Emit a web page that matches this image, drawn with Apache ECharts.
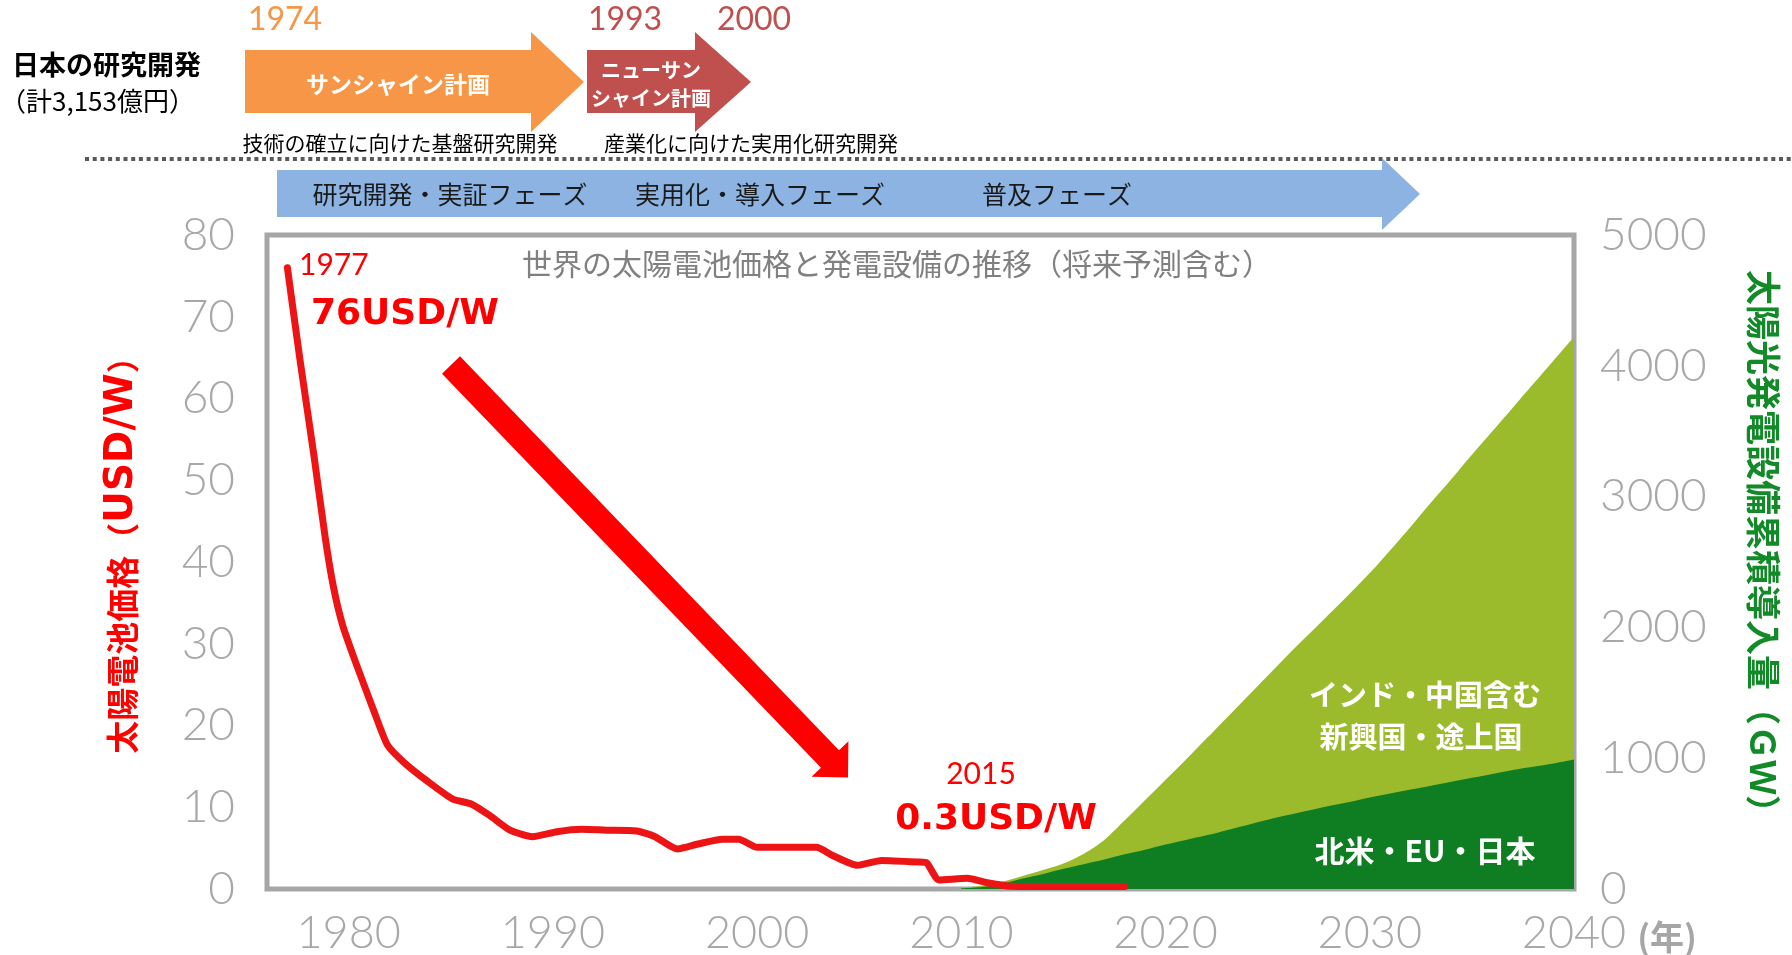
<!DOCTYPE html>
<html>
<head>
<meta charset="utf-8">
<script src="https://cdn.jsdelivr.net/npm/echarts@6/dist/echarts.min.js"></script>
<style>
html,body{margin:0;padding:0;background:#ffffff;}
#chart{width:1792px;height:955px;}
</style>
</head>
<body>
<div id="chart"></div>
<script>
// ---- data ----
const priceYears = [1977, 1977.6, 1978.3, 1978.85, 1979.25, 1979.7, 1980.3, 1981.2, 1981.9, 1982.7, 1983.9, 1985.1, 1986.0, 1986.9, 1987.9, 1989.0, 1990.2, 1991.4, 1992.6, 1994.1, 1995.0, 1996.1, 1997.1, 1998.3, 1999.1, 2000.0, 2002.9, 2003.7, 2004.9, 2006.1, 2007.9, 2008.3, 2008.9, 2010.3, 2011.2, 2012.4, 2015, 2018];
const priceUSDperW = [76, 65, 53, 43, 37, 32.3, 28, 22, 17.6, 15.5, 13.1, 11.0, 10.4, 9.0, 7.2, 6.4, 7.0, 7.3, 7.2, 7.1, 6.4, 4.9, 5.5, 6.1, 6.1, 5.1, 5.1, 4.1, 2.9, 3.5, 3.3, 3.2, 1.1, 1.3, 0.8, 0.35, 0.3, 0.3];

const capYears = [2010, 2011, 2012, 2013, 2014, 2015, 2016, 2017, 2018, 2019, 2020, 2021, 2022, 2023, 2024, 2025, 2026, 2027, 2028, 2029, 2030, 2031, 2032, 2033, 2034, 2035, 2036, 2037, 2038, 2039, 2040];
const advancedGW = [5, 15, 40, 80, 115, 155, 190, 225, 265, 300, 340, 375, 410, 450, 490, 530, 565, 600, 635, 665, 700, 730, 760, 790, 820, 850, 880, 910, 935, 960, 990];
const emergingGW = [5, 10, 15, 20, 30, 40, 80, 150, 260, 380, 495, 615, 740, 860, 980, 1100, 1225, 1345, 1465, 1590, 1715, 1860, 2010, 2165, 2315, 2470, 2620, 2770, 2925, 3080, 3230];

const xTickYears = [1980, 1990, 2000, 2010, 2020, 2030, 2040];
const priceAxisMax = 80;
const priceAxisStep = 10;
const capAxisMax = 5000;
const capAxisStep = 1000;

const advancedName = '北米・EU・日本';
const emergingName = 'インド・中国含む新興国・途上国';

// ---- styles ----
const CJK = "'Noto Sans CJK JP', 'Noto Sans', sans-serif";
const NUM = "Lato, 'Liberation Sans', sans-serif";
const tickGray = '#a8a8a8';
const priceRed = '#ec1414';
const darkGreen = '#0f7d21';
const lightGreen = '#9cbb2c';

const priceData = priceYears.map((y, i) => [y, priceUSDperW[i]]);
const advData = capYears.map((y, i) => [y, advancedGW[i]]);
// emerging band is drawn on top of the advanced band: its upper edge is the sum
const totalData = capYears.map((y, i) => [y, advancedGW[i] + emergingGW[i]]);

function txt(text, x, y, font, fill, align, extra) {
  return Object.assign({
    type: 'text', x: x, y: y, z: 100,
    style: { text: text, font: font, fill: fill, align: align || 'center', verticalAlign: 'middle' }
  }, extra || {});
}
function arrow(points, fill) {
  return { type: 'polygon', z: 50, shape: { points: points }, style: { fill: fill } };
}

const chart = echarts.init(document.getElementById('chart'), null, { renderer: 'canvas' });

const option = {
  animation: false,
  backgroundColor: '#ffffff',
  grid: {
    left: 267, right: 218, top: 235, bottom: 66,
    show: true, borderColor: '#a6a6a6', borderWidth: 5,
    backgroundColor: 'transparent',
    containLabel: false, outerBoundsMode: 'none'
  },
  xAxis: {
    type: 'value', min: 1976, max: 2040,
    axisLine: { show: false }, axisTick: { show: false }, splitLine: { show: false },
    axisLabel: {
      customValues: xTickYears, fontSize: 45, fontWeight: 300, fontFamily: NUM, color: tickGray, margin: 22,
      formatter: v => String(v)
    }
  },
  yAxis: [
    {
      type: 'value', min: 0, max: priceAxisMax, interval: priceAxisStep, position: 'left',
      axisLine: { show: false }, axisTick: { show: false }, splitLine: { show: false },
      axisLabel: { fontSize: 46, fontWeight: 300, fontFamily: NUM, color: tickGray, margin: 32, formatter: v => String(v) }
    },
    {
      type: 'value', min: 0, max: capAxisMax, interval: capAxisStep, position: 'right',
      axisLine: { show: false }, axisTick: { show: false }, splitLine: { show: false },
      axisLabel: { fontSize: 46, fontWeight: 300, fontFamily: NUM, color: tickGray, margin: 26, formatter: v => String(v) }
    }
  ],
  series: [
    {
      name: emergingName, type: 'line', yAxisIndex: 1, data: totalData,
      smooth: 0.3, showSymbol: false, lineStyle: { width: 0 },
      areaStyle: { color: lightGreen, opacity: 1 }, z: 2
    },
    {
      name: advancedName, type: 'line', yAxisIndex: 1, data: advData,
      smooth: 0.3, showSymbol: false, lineStyle: { width: 0 },
      areaStyle: { color: darkGreen, opacity: 1 }, z: 3
    },
    {
      name: '太陽電池価格', type: 'line', yAxisIndex: 0, data: priceData,
      smooth: 0.2, showSymbol: false,
      lineStyle: { width: 7, color: priceRed, cap: 'round', join: 'round' }, z: 5
    }
  ],
  graphic: [
    // header
    txt('日本の研究開発', 12, 65, `bold 27px ${CJK}`, '#000000', 'left'),
    txt('（計3,153億円）', 0, 101, `26px ${CJK}`, '#000000', 'left'),
    txt('1974', 285, 20, `32px ${NUM}`, '#f79646'),
    txt('1993', 625, 20, `32px ${NUM}`, '#c0504d'),
    txt('2000', 754, 20, `32px ${NUM}`, '#c0504d'),
    arrow([[245, 50], [531, 50], [531, 32], [584, 82], [531, 132], [531, 113], [245, 113]], '#f79646'),
    arrow([[587, 50], [695, 50], [695, 32], [751, 82], [695, 132], [695, 113], [587, 113]], '#c0504d'),
    txt('サンシャイン計画', 398, 84, `bold 23px ${CJK}`, '#ffffff'),
    txt('ニューサン', 651, 70, `bold 20px ${CJK}`, '#ffffff'),
    txt('シャイン計画', 651, 98, `bold 20px ${CJK}`, '#ffffff'),
    txt('技術の確立に向けた基盤研究開発', 400, 143, `21px ${CJK}`, '#000000'),
    txt('産業化に向けた実用化研究開発', 751, 143, `21px ${CJK}`, '#000000'),
    { type: 'line', z: 50, shape: { x1: 85, y1: 159, x2: 1792, y2: 159 },
      style: { stroke: '#595959', lineWidth: 4, lineDash: [4, 3.7] } },
    // phase arrow
    arrow([[277, 170], [1382, 170], [1382, 158], [1420, 194], [1382, 230], [1382, 217], [277, 217]], '#8db3e2'),
    txt('研究開発・実証フェーズ', 450, 194, `25px ${CJK}`, '#1a1a1a'),
    txt('実用化・導入フェーズ', 760, 194, `25px ${CJK}`, '#1a1a1a'),
    txt('普及フェーズ', 1057, 194, `25px ${CJK}`, '#1a1a1a'),
    // in-plot annotations
    txt('世界の太陽電池価格と発電設備の推移（将来予測含む）', 897, 264, `30px ${CJK}`, '#808080'),
    txt('1977', 299, 265, `30px ${NUM}`, '#ff0000', 'left'),
    txt('76USD/W', 311, 315, `bold 36px 'DejaVu Sans', sans-serif`, '#ff0000', 'left'),
    arrow([[460, 356.3], [839, 750.3], [848.4, 741.3], [848, 777.4], [811.6, 776.7], [821, 767.7], [442, 373.7]], '#ff0000'),
    txt('2015', 981, 774, `30px ${NUM}`, '#ff0000'),
    txt('0.3USD/W', 996, 820, `bold 36px 'DejaVu Sans', sans-serif`, '#ff0000'),
    txt('インド・中国含む', 1425, 695, `bold 29px ${CJK}`, '#ffffff'),
    txt('新興国・途上国', 1421, 737, `bold 29px ${CJK}`, '#ffffff'),
    txt(advancedName, 1425, 851, `bold 30px ${CJK}`, '#ffffff'),
    txt('(年)', 1667, 937, `bold 34px ${CJK}`, '#a6a6a6'),
    // axis titles
    {
      type: 'text', x: 122, y: 547, z: 100, rotation: Math.PI / 2,
      style: {
        text: '{a|太陽電池価格（}{b|USD/W}{a|）}', align: 'center', verticalAlign: 'middle',
        rich: {
          a: { font: `bold 33px ${CJK}`, fill: '#ff0000' },
          b: { font: `bold 39px 'DejaVu Sans', sans-serif`, fill: '#ff0000' }
        }
      }
    },
    txt('太陽光発電設備累積導入量（ＧＷ）', 1763, 550, `bold 35px ${CJK}`, '#118a27', 'center', { rotation: -Math.PI / 2 })
  ]
};

chart.setOption(option);
</script>
</body>
</html>
